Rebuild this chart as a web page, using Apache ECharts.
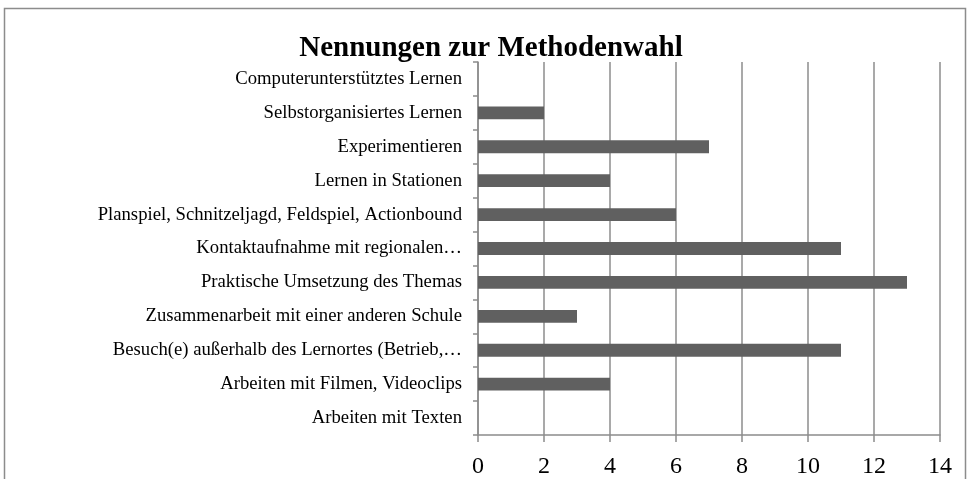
<!DOCTYPE html>
<html><head><meta charset="utf-8">
<script src="https://cdn.jsdelivr.net/npm/echarts@6/dist/echarts.min.js"></script>
<style>html,body{margin:0;padding:0;background:#fff}#c{width:968px;height:479px}</style>
</head><body><div id="c"></div>
<script>
const categories = [
  "Computerunterstütztes Lernen",
  "Selbstorganisiertes Lernen",
  "Experimentieren",
  "Lernen in Stationen",
  "Planspiel, Schnitzeljagd, Feldspiel, Actionbound",
  "Kontaktaufnahme mit regionalen…",
  "Praktische Umsetzung des Themas",
  "Zusammenarbeit mit einer anderen Schule",
  "Besuch(e) außerhalb des Lernortes (Betrieb,…",
  "Arbeiten mit Filmen, Videoclips",
  "Arbeiten mit Texten"
];
const values = [0, 2, 7, 4, 6, 11, 13, 3, 11, 4, 0];
const xTicks = { min: 0, max: 14, interval: 2 };

const chart = echarts.init(document.getElementById('c'), null, {renderer: 'canvas'});
const serif = '"Liberation Serif", "Times New Roman", serif';
chart.setOption({
  animation: false,
  backgroundColor: '#fff',
  title: {
    text: 'Nennungen zur Methodenwahl',
    left: 486, top: 29, textAlign: 'center',
    textStyle: {fontFamily: serif, fontWeight: 'bold', fontSize: 29, color: '#000'}
  },
  graphic: [{
    type: 'rect', silent: true, z: -1,
    shape: {x: 4.5, y: 8.5, width: 961, height: 520},
    style: {fill: 'none', stroke: '#8c8c8c', lineWidth: 1.5}
  }],
  grid: {left: 478, right: 28, top: 62, bottom: 43, containLabel: false},
  xAxis: {
    type: 'value', min: xTicks.min, max: xTicks.max, interval: xTicks.interval,
    axisLine: {show: true, lineStyle: {color: '#8c8c8c', width: 1.5}},
    axisTick: {show: true, length: 7, lineStyle: {color: '#8c8c8c', width: 1.5}},
    splitLine: {show: true, lineStyle: {color: '#8c8c8c', width: 1.5}},
    axisLabel: {fontFamily: serif, fontSize: 24, color: '#000', margin: 20}
  },
  yAxis: {
    type: 'category', data: categories, inverse: true,
    axisLine: {show: true, lineStyle: {color: '#8c8c8c', width: 1.5}},
    axisTick: {show: true, length: 5, lineStyle: {color: '#8c8c8c', width: 1.5}},
    axisLabel: {fontFamily: serif, fontSize: 18.7, color: '#000', margin: 16, interval: 0}
  },
  series: [{
    type: 'bar', data: values, barWidth: '38%',
    itemStyle: {color: '#606060'}
  }]
});
</script></body></html>
